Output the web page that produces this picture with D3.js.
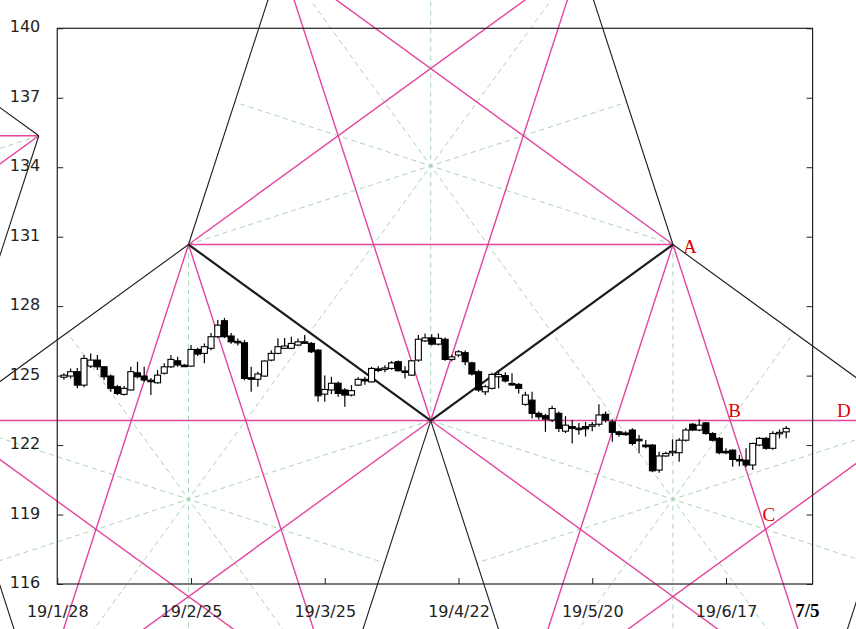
<!DOCTYPE html>
<html>
<head>
<meta charset="utf-8">
<script src="https://cdn.jsdelivr.net/npm/d3@7"></script>
<style>
  html, body { margin: 0; padding: 0; background: #fff; }
  svg { display: block; }
</style>
</head>
<body>
<svg id="chart" width="856" height="629"></svg>
<script>
// ---------------- data ----------------
// x axis: trading-day index, 0 = 2019/1/28
const tickIndex  = [0, 20, 40, 60, 80, 100];
const tickLabels = ["19/1/28", "19/2/25", "19/3/25", "19/4/22", "19/5/20", "19/6/17"];
const priceTicks = [116, 119, 122, 125, 128, 131, 134, 137, 140];

// daily candles [open, high, low, close], first one at index 1 (2019/1/29)
const firstCandleIndex = 1;
const ohlc = [
  [124.93,125.10,124.82,125.02],[124.98,125.31,124.88,125.17],[125.17,125.33,124.45,124.59],
  [124.59,125.89,124.50,125.74],[125.41,125.96,125.33,125.67],[125.67,125.89,125.24,125.38],
  [125.38,125.42,124.81,124.95],[124.98,125.05,124.30,124.45],[124.52,124.60,124.16,124.23],
  [124.19,124.55,124.14,124.45],[124.38,125.38,124.36,125.17],[125.12,125.60,124.88,124.95],
  [124.98,125.38,124.73,124.81],[124.80,124.90,124.16,124.74],[124.69,125.24,124.65,125.02],
  [125.10,125.53,125.05,125.38],[125.38,125.89,125.33,125.70],[125.64,125.81,125.38,125.46],
  [125.45,125.50,125.40,125.43],[125.41,126.32,125.38,126.13],[126.13,126.20,125.85,125.93],
  [125.96,126.39,125.53,126.25],[126.18,126.84,126.10,126.68],[126.68,127.40,126.62,127.18],
  [127.37,127.49,126.62,126.68],[126.71,126.84,126.38,126.46],[126.48,126.60,126.30,126.42],
  [126.42,126.54,124.80,124.88],[124.91,125.38,124.30,124.84],[124.84,125.17,124.52,125.07],
  [124.98,125.65,124.95,125.63],[125.67,126.10,125.62,125.96],[125.96,126.61,125.92,126.25],
  [126.18,126.62,126.15,126.28],[126.18,126.68,126.14,126.39],[126.32,126.60,126.28,126.46],
  [126.46,126.75,126.38,126.42],[126.39,126.45,125.98,126.03],[126.10,126.15,123.87,124.13],
  [124.20,125.00,123.87,124.40],[124.38,124.95,124.20,124.67],[124.67,124.75,124.09,124.23],
  [124.38,124.45,123.66,124.16],[124.16,124.59,124.10,124.35],[124.59,124.93,124.55,124.84],
  [124.84,124.95,124.60,124.77],[124.73,125.38,124.70,125.31],[125.29,125.40,125.15,125.26],
  [125.28,125.45,125.15,125.33],[125.31,125.63,125.25,125.55],[125.60,125.65,125.18,125.21],
  [125.20,125.40,124.88,125.15],[125.02,125.67,124.98,125.64],[125.67,126.75,125.60,126.57],
  [126.50,126.82,126.45,126.63],[126.63,126.79,126.30,126.36],[126.36,126.82,126.30,126.61],
  [126.57,126.65,125.64,125.70],[125.70,125.90,125.62,125.81],[125.89,126.10,125.80,126.03],
  [125.99,126.08,125.45,125.60],[125.55,125.60,125.00,125.07],[125.17,125.25,124.30,124.38],
  [124.30,124.60,124.16,124.52],[124.45,125.12,124.40,125.05],[124.95,125.17,124.45,125.05],
  [125.00,125.15,124.70,124.77],[124.66,125.10,124.55,124.60],[124.62,124.68,124.23,124.45],
  [123.76,124.30,123.70,124.16],[123.94,124.30,123.15,123.37],[123.37,123.45,123.10,123.22],
  [123.27,123.35,122.57,123.12],[123.08,123.70,123.00,123.58],[123.37,123.45,122.57,122.72],
  [122.60,123.25,122.52,122.86],[122.80,123.08,122.07,122.72],[122.73,122.95,122.45,122.68],
  [122.80,123.00,122.37,122.70],[122.83,123.00,122.60,122.88],[122.90,123.76,122.80,123.30],
  [123.33,123.45,122.98,123.08],[123.00,123.10,122.14,122.55],[122.57,122.62,122.36,122.46],
  [122.52,122.60,122.40,122.45],[122.65,122.73,121.98,122.07],[122.25,122.43,121.65,122.19],
  [122.00,122.22,121.86,121.93],[122.00,122.05,120.83,120.89],[120.92,121.71,120.80,121.53],
  [121.53,121.71,121.49,121.64],[121.69,122.25,121.53,121.73],[121.67,122.29,121.28,122.21],
  [122.21,122.75,122.15,122.65],[122.90,122.95,122.60,122.65],[122.65,123.11,122.60,122.86],
  [122.96,123.00,122.45,122.50],[122.50,122.55,122.15,122.21],[122.29,122.35,121.60,121.67],
  [121.73,121.86,121.60,121.69],[121.78,121.82,121.06,121.38],[121.38,121.57,121.09,121.33],
  [121.35,121.86,121.04,121.14],[121.14,122.10,120.92,122.07],[122.00,122.35,121.95,122.29],
  [122.29,122.35,121.80,121.86],[121.86,122.60,121.80,122.50],[122.50,122.68,122.29,122.55],
  [122.57,122.82,122.30,122.72]
];

// pentagon (pentagram) constructions: centre (trading-day index, price) and orientation
const pentagonCenters = [
  { t: 55.85,  p: 134.06, dir: "down" },
  { t: 19.63,  p: 119.66, dir: "up" },
  { t: 92.07,  p: 119.66, dir: "up" },
  { t: -38.98, p: 131.96, dir: "up" }
];
const pentagonRadius = 11; // in price units (yen)

const markerLabels = ["A", "B", "C", "D"];
const targetDateIndex = 114;
const targetDateLabel = "7/5";

// ---------------- chart ----------------
const W = 856, H = 629;
const plot = { left: 57.25, right: 812.6, top: 28.3, bottom: 584 };
const xMax = 112.95;

const x = d3.scaleLinear().domain([0, xMax]).range([plot.left, plot.right]);
const y = d3.scaleLinear().domain([116, 140]).range([plot.bottom, plot.top]);

const svg = d3.select("#chart");
const PINK = "#e2459c", GREEN = "#a9d4b5", BLACK = "#1c1c1c";

// pentagon geometry in screen space
function pentagonVertices(c) {
  const cx = x(c.t), cy = y(c.p);
  const R = Math.abs(y(c.p - pentagonRadius) - cy);
  const base = c.dir === "up" ? -90 : 90;
  return d3.range(5).map(k => {
    const a = (base + 72 * k) * Math.PI / 180;
    return [cx + R * Math.cos(a), cy + R * Math.sin(a)];
  });
}
const pents = pentagonCenters.map(pentagonVertices);

const sides = [], diagonals = [], axesSeg = [];
pents.forEach(v => {
  for (let k = 0; k < 5; k++) {
    sides.push([v[k], v[(k + 1) % 5]]);
    diagonals.push([v[k], v[(k + 2) % 5]]);
    const a = v[(k + 2) % 5], b = v[(k + 3) % 5];
    axesSeg.push([v[k], [(a[0] + b[0]) / 2, (a[1] + b[1]) / 2]]);
  }
});
// shared sides (drawn by two constructions) appear heavier
const keyOf = s => s.map(p => p.map(q => Math.round(q)).join(",")).sort().join("|");
const uniqueSides = Array.from(d3.group(sides, keyOf).values(), g => ({ seg: g[0], n: g.length }));

const gLines = svg.append("g");
gLines.selectAll("line.axisline").data(axesSeg).join("line")
  .attr("x1", d => d[0][0]).attr("y1", d => d[0][1])
  .attr("x2", d => d[1][0]).attr("y2", d => d[1][1])
  .attr("stroke", GREEN).attr("stroke-width", 1).attr("stroke-dasharray", "5,4");
gLines.selectAll("line.diag").data(diagonals).join("line")
  .attr("x1", d => d[0][0]).attr("y1", d => d[0][1])
  .attr("x2", d => d[1][0]).attr("y2", d => d[1][1])
  .attr("stroke", PINK).attr("stroke-width", 1.4);
gLines.selectAll("line.side").data(uniqueSides).join("line")
  .attr("x1", d => d.seg[0][0]).attr("y1", d => d.seg[0][1])
  .attr("x2", d => d.seg[1][0]).attr("y2", d => d.seg[1][1])
  .attr("stroke", BLACK).attr("stroke-width", d => d.n > 1 ? 2.2 : 1.1);

// frame + axes
svg.append("rect")
  .attr("x", plot.left).attr("y", plot.top)
  .attr("width", plot.right - plot.left).attr("height", plot.bottom - plot.top)
  .attr("fill", "none").attr("stroke", "#222").attr("stroke-width", 1.2);

const fontAxis = "'DejaVu Sans', Verdana, sans-serif";
const yAxis = d3.axisLeft(y).tickValues(priceTicks).tickSize(-6).tickPadding(17).tickFormat(d3.format("d"));
const gy = svg.append("g").attr("transform", `translate(${plot.left},0)`).call(yAxis);
gy.select(".domain").remove();
gy.selectAll("line").attr("stroke", "#222");
gy.selectAll("text").attr("font-family", fontAxis).attr("font-size", 16).attr("fill", "#222").attr("dy", "0.22em");

const yAxisR = d3.axisRight(y).tickValues(priceTicks).tickSize(-6).tickFormat("");
const gyr = svg.append("g").attr("transform", `translate(${plot.right},0)`).call(yAxisR);
gyr.select(".domain").remove();
gyr.selectAll("line").attr("stroke", "#222");

const xAxis = d3.axisBottom(x).tickValues(tickIndex).tickSize(-6).tickPadding(21.5)
  .tickFormat((d, i) => tickLabels[i]);
const gx = svg.append("g").attr("transform", `translate(0,${plot.bottom})`).call(xAxis);
gx.select(".domain").remove();
gx.selectAll("line").attr("stroke", "#222");
gx.selectAll("text").attr("font-family", fontAxis).attr("font-size", 16).attr("fill", "#222");

// candles
const candles = ohlc.map((d, i) => ({ t: firstCandleIndex + i, o: d[0], h: d[1], l: d[2], c: d[3] }));
const bw = 6;
const gC = svg.append("g");
gC.selectAll("line.wick").data(candles).join("line")
  .attr("x1", d => x(d.t)).attr("x2", d => x(d.t))
  .attr("y1", d => y(d.h)).attr("y2", d => y(d.l))
  .attr("stroke", "#000").attr("stroke-width", 1.2);
gC.selectAll("rect.body").data(candles).join("rect")
  .attr("x", d => x(d.t) - bw / 2)
  .attr("y", d => y(Math.max(d.o, d.c)))
  .attr("width", bw)
  .attr("height", d => Math.max(1.5, Math.abs(y(d.o) - y(d.c))))
  .attr("fill", d => d.c >= d.o ? "#fff" : "#000")
  .attr("stroke", "#000").attr("stroke-width", 1.1);

// marker labels
function intersect(a1, a2, b1, b2) {
  const d1 = [a2[0] - a1[0], a2[1] - a1[1]], d2 = [b2[0] - b1[0], b2[1] - b1[1]];
  const den = d1[0] * d2[1] - d1[1] * d2[0];
  const s = ((b1[0] - a1[0]) * d2[1] - (b1[1] - a1[1]) * d2[0]) / den;
  return [a1[0] + s * d1[0], a1[1] + s * d1[1]];
}
const p1 = pents[0], p3 = pents[2];
const ptA = p1[4];
const ptB = intersect(p3[0], p3[2], p3[4], p3[1]);
const ptC = intersect(p3[0], p3[2], p3[1], p3[3]);
const ptD = [W - 19, p3[4][1]];
const markerPos = [
  [ptA[0] + 10, ptA[1] + 8],
  [ptB[0] - 2, ptB[1] - 3.5],
  [ptC[0] - 3, ptC[1] - 8],
  [ptD[0], ptD[1] - 3.5]
];
svg.append("g").selectAll("text").data(markerLabels).join("text")
  .attr("x", (d, i) => markerPos[i][0]).attr("y", (d, i) => markerPos[i][1])
  .attr("font-family", "'Liberation Serif', 'Times New Roman', serif")
  .attr("font-size", 19).attr("fill", "#e00000")
  .text(d => d);

svg.append("text")
  .attr("x", x(targetDateIndex)).attr("y", 617)
  .attr("text-anchor", "end")
  .attr("font-family", "'Liberation Serif', 'Times New Roman', serif")
  .attr("font-weight", "bold").attr("font-size", 19).attr("fill", "#000")
  .text(targetDateLabel);
</script>
</body>
</html>
